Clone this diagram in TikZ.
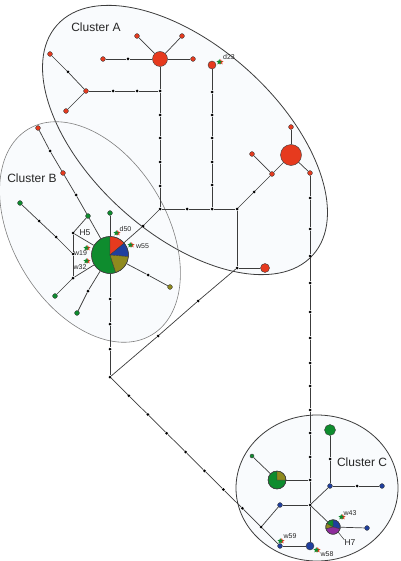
\documentclass[tikz,border=0pt]{standalone}
\usepackage{fontspec}
\setmainfont{Liberation Sans}
\usetikzlibrary{shapes.geometric}
\definecolor{cred}{HTML}{E63A1E}
\definecolor{cgreen}{HTML}{0E8C2E}
\definecolor{cblue}{HTML}{1F3F9E}
\definecolor{colive}{HTML}{8F8A1E}
\definecolor{cpurple}{HTML}{8E2C9C}
\definecolor{cfill}{HTML}{F9FBFD}
\definecolor{cline}{HTML}{3C3C3C}
\newcommand{\pwedge}[5]{\filldraw[fill=#5,draw=cline,line width=0.4pt] (#1) -- ++(#3:#2pt) arc[start angle=#3, end angle=#4, radius=#2pt] -- cycle;}
\newcommand{\twostar}[2]{%
  \node[starn,fill=cred,xshift=0.8pt] (#1r) at (#2) {};
  \node[starn,fill=cgreen,xshift=-0.8pt] (#1g) at (#2) {};}
\begin{document}
\begin{tikzpicture}[x=1pt,y=-1pt,
  dotn/.style={circle,fill=black,inner sep=0pt,minimum size=3pt},
  nd/.style={circle,draw=cline,line width=0.4pt,inner sep=0pt,minimum size=#1},
  rs/.style={nd=#1,fill=cred}, rs/.default=4.8pt,
  gs/.style={nd=#1,fill=cgreen}, gs/.default=4.8pt,
  bs/.style={nd=#1,fill=cblue}, bs/.default=4.8pt,
  os/.style={nd=#1,fill=colive}, os/.default=4.8pt,
  pie/.style={circle,inner sep=0pt,minimum size=#1},
  edge/.style={draw=cline,line width=0.7pt},
  starn/.style={star,star points=5,star point ratio=2.3,inner sep=0pt,minimum size=6pt},
  big/.style={font=\fontsize{12}{14}\selectfont,text=black!85},
  lab/.style={font=\fontsize{7}{8}\selectfont,text=black!85,inner sep=0pt},
  hlab/.style={font=\fontsize{8.5}{10}\selectfont,text=black!85,inner sep=0pt}
]
\useasboundingbox (0,0) rectangle (400,561);
% cluster outlines
\fill[cfill,rotate around={-42:(185,140)}] (185,140) ellipse [x radius=172pt, y radius=94pt];
\fill[cfill,rotate around={-59:(90,232)}] (90,232) ellipse [x radius=120pt, y radius=77pt];
\fill[cfill] (317,488) ellipse [x radius=81pt, y radius=73pt];
\draw[cline,line width=0.8pt,rotate around={-42:(185,140)}] (185,140) ellipse [x radius=172pt, y radius=94pt];
\draw[black!50,line width=0.6pt,rotate around={-59:(90,232)}] (90,232) ellipse [x radius=120pt, y radius=77pt];
\draw[cline,line width=0.8pt] (317,488) ellipse [x radius=81pt, y radius=73pt];

% ---------- Cluster A nodes
\node[rs=15pt] (A1) at (160,59) {};
\node[rs] (a1) at (137,36) {};
\node[rs] (a2) at (182,36) {};
\node[rs] (a3) at (193,59) {};
\node[dotn] (a4) at (128,59) {};
\node[rs] (a5) at (103,59) {};
\foreach \y [count=\i] in {91,115,138,162,186} \node[dotn] (v\i) at (160,\y) {};
\node[dotn] (J1) at (160,209) {};
\node[dotn] (l1) at (137,91) {};
\node[dotn] (l2) at (113,91) {};
\node[rs] (R3) at (86,91) {};
\node[dotn] (l3) at (68,72) {};
\node[rs] (R3a) at (50,54) {};
\node[rs] (R3b) at (66,111) {};
\node[dotn] (h1) at (187,209) {};
\node[dotn] (h2) at (212,209) {};
\node[dotn] (J2) at (237,209) {};
\node[rs=8pt] (D23) at (212,65) {};
\foreach \y [count=\i] in {92,115,138,162,185} \node[dotn] (w\i) at (212,\y) {};
\node[dotn] (e1) at (254,192) {};
\node[rs] (R4) at (272,174) {};
\node[rs] (R4a) at (252,154) {};
\node[rs=21pt] (A2) at (291,155) {};
\node[rs] (A2a) at (291,127) {};
\node[rs] (R5) at (310,173) {};
\foreach \y [count=\i] in {198,229,256,283,312,338,363,386,410,433,457} \node[dotn] (s\i) at (310,\y) {};
\node[dotn] (C1) at (310,480) {};
\node[dotn] (J5) at (310,505) {};
\node[bs=8pt] (BB) at (310,546) {};
\node[dotn] (J3) at (237,268) {};
\node[rs=9pt] (R6) at (265,268) {};
\node[dotn] (m1) at (198,301) {};
\node[dotn] (m2) at (158,336) {};
\node[dotn] (J4) at (110,377) {};

% ---------- Cluster B nodes
\node[pie=37pt] (H5) at (110,255) {};
\node[gs] (gt) at (110,213) {};
\node[dotn] (b1) at (143,226) {};
\node[dotn] (b2) at (148,275) {};
\node[os] (ol) at (170,287) {};
\foreach \y [count=\i] in {299,324,349} \node[dotn] (bv\i) at (110,\y) {};
\node[dotn] (b3) at (88,291) {};
\node[gs] (gb) at (77,313) {};
\node[dotn] (K1) at (73,233) {};
\node[dotn] (K2) at (73,254) {};
\node[dotn] (K3) at (73,278) {};
\node[gs] (gl) at (55,296) {};
\node[gs] (G1) at (88,216) {};
\node[dotn] (c1) at (76,195) {};
\node[rs] (Rb1) at (63,173) {};
\node[dotn] (c2) at (50,151) {};
\node[rs] (Rb2) at (38,128) {};
\node[gs] (gL) at (20,203) {};
\node[dotn] (c3) at (39,221) {};
\node[dotn] (c4) at (56,237) {};

% ---------- Cluster C nodes
\node[pie=18pt] (P2) at (277,480) {};
\node[gs=4pt] (gsm) at (252,456) {};
\node[gs=11pt] (Gc) at (330,430) {};
\node[dotn] (cd) at (330,459) {};
\node[bs] (Bc1) at (330,486) {};
\node[dotn] (cd2) at (357,486) {};
\node[bs] (Bc2) at (382,486) {};
\node[bs] (Bb1) at (280,505) {};
\node[pie=14.6pt] (H7) at (333,527) {};
\node[bs] (Bc3) at (367,528) {};
\node[bs] (Bb2) at (280,546) {};
\foreach \k in {1,...,8} \node[dotn] (d\k) at ({110+18.9*\k},{377+18.75*\k}) {};

% ---------- edges
\draw[edge] (A1) -- (a1);
\draw[edge] (A1) -- (a2);
\draw[edge] (A1) -- (a3);
\draw[edge] (A1) -- (a4) -- (a5);
\draw[edge] (A1) -- (v1) -- (v2) -- (v3) -- (v4) -- (v5) -- (J1);
\draw[edge] (v1) -- (l1) -- (l2) -- (R3);
\draw[edge] (R3) -- (l3) -- (R3a);
\draw[edge] (R3) -- (R3b);
\draw[edge] (J1) -- (h1) -- (h2) -- (J2);
\draw[edge] (D23) -- (w1) -- (w2) -- (w3) -- (w4) -- (w5) -- (h2);
\draw[edge] (J2) -- (e1) -- (R4);
\draw[edge] (R4) -- (R4a);
\draw[edge] (R4) -- (A2);
\draw[edge] (A2) -- (A2a);
\draw[edge] (A2) -- (R5);
\draw[edge] (R5) -- (s1) -- (s2) -- (s3) -- (s4) -- (s5) -- (s6) -- (s7) -- (s8) -- (s9) -- (s10) -- (s11) -- (C1) -- (J5) -- (BB);
\draw[edge] (J2) -- (J3);
\draw[edge] (J3) -- (R6);
\draw[edge] (J3) -- (m1) -- (m2) -- (J4);
% B
\draw[edge] (H5) -- (gt);
\draw[edge] (H5) -- (b1) -- (J1);
\draw[edge] (H5) -- (b2) -- (ol);
\draw[edge] (H5) -- (bv1) -- (bv2) -- (bv3) -- (J4);
\draw[edge] (H5) -- (b3) -- (gb);
\draw[edge] (H5) -- (K1);
\draw[edge] (K1) -- (G1);
\draw[edge] (G1) -- (H5);
\draw[edge] (K1) -- (K2) -- (K3);
\draw[edge] (K3) -- (H5);
\draw[edge] (K3) -- (gl);
\draw[edge] (G1) -- (c1) -- (Rb1) -- (c2) -- (Rb2);
\draw[edge] (gL) -- (c3) -- (c4) -- (K2);
% C
\draw[edge] (C1) -- (P2);
\draw[edge] (P2) -- (gsm);
\draw[edge] (Gc) -- (cd) -- (Bc1);
\draw[edge] (Bc1) -- (cd2) -- (Bc2);
\draw[edge] (Bc1) -- (J5);
\draw[edge] (Bb1) -- (J5);
\draw[edge] (H7) -- (J5);
\draw[edge] (H7) -- (Bc3);
\draw[edge] (BB) -- (Bb2);
\draw[edge] (J4) -- (d1) -- (d2) -- (d3) -- (d4) -- (d5) -- (d6) -- (d7) -- (d8) -- (Bb2);
\draw[edge] (d8) -- (Bb1);

% ---------- pies
\pwedge{H5.center}{18.5}{90}{288}{cgreen}
\pwedge{H5.center}{18.5}{40}{90}{cred}
\pwedge{H5.center}{18.5}{-5}{40}{cblue}
\pwedge{H5.center}{18.5}{-72}{-5}{colive}
\draw[cline,line width=0.5pt] (H5.center) circle[radius=18.5pt];
\pwedge{P2.center}{9}{90}{360}{cgreen}
\pwedge{P2.center}{9}{0}{90}{colive}
\draw[cline,line width=0.5pt] (P2.center) circle[radius=9pt];
\pwedge{H7.center}{7.3}{-15}{90}{cblue}
\pwedge{H7.center}{7.3}{90}{150}{cgreen}
\pwedge{H7.center}{7.3}{150}{195}{colive}
\pwedge{H7.center}{7.3}{195}{345}{cpurple}
\draw[cline,line width=0.5pt] (H7.center) circle[radius=7.3pt];

% ---------- stars
\twostar{sd23}{220,62}
\twostar{sd50}{117,233}
\twostar{sw55}{131,245}
\twostar{sw19}{87,248}
\twostar{sw32}{87,261}
\twostar{sw43}{342,517}
\twostar{sw59}{281,541}
\twostar{sw58}{317,550}

% ---------- labels
\node[big] (tA) at (96,27) {Cluster A};
\node[big] (tB) at (32,178) {Cluster B};
\node[big] (tC) at (362,462) {Cluster C};
\node[lab] (td23) at (229,57) {d23};
\node[lab] (td50) at (125.5,229) {d50};
\node[lab] (tw55) at (142.5,246) {w55};
\node[hlab] (tH5) at (85,233) {H5};
\node[lab] (tw19) at (80.5,253) {w19};
\node[lab] (tw32) at (80,267) {w32};
\node[lab] (tw43) at (350,513) {w43};
\node[lab] (tw59) at (290,536) {w59};
\node[lab] (tw58) at (327,554) {w58};
\node[hlab] (tH7) at (350,543) {H7};
\draw[cline,line width=0.5pt] (H7.-45) -- (tH7.north west);
\end{tikzpicture}
\end{document}
